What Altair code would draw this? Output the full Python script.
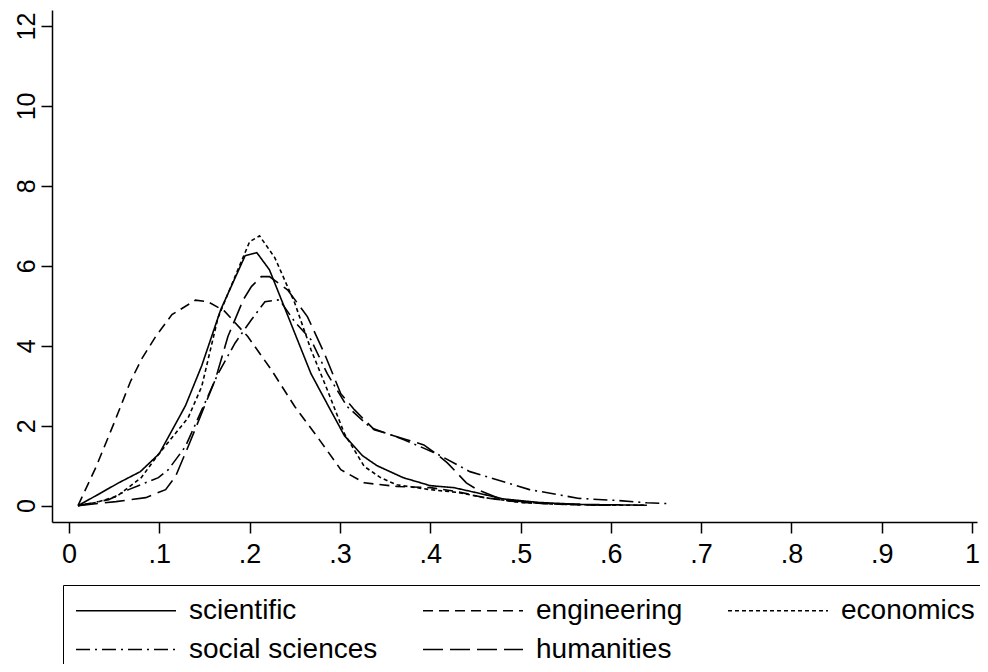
import altair as alt
import pandas as pd

# ---- data (kernel density curves) ----
series_names = ["scientific", "engineering", "economics", "social sciences", "humanities"]

sci_x = [0.01, 0.03, 0.055, 0.079, 0.10, 0.129, 0.147, 0.168, 0.195, 0.208, 0.222, 0.245, 0.268, 0.287,
         0.305, 0.325, 0.341, 0.37, 0.40, 0.426, 0.45, 0.48, 0.52, 0.565, 0.60, 0.64]
sci_y = [0.0, 0.25, 0.57, 0.85, 1.3, 2.5, 3.5, 4.9, 6.25, 6.33, 5.9, 4.6, 3.3, 2.5,
         1.75, 1.25, 1.0, 0.7, 0.5, 0.45, 0.33, 0.17, 0.08, 0.03, 0.02, 0.01]

eng_x = [0.01, 0.03, 0.05, 0.068, 0.08, 0.096, 0.114, 0.14, 0.154, 0.172, 0.198, 0.224, 0.25, 0.275,
         0.301, 0.327, 0.363, 0.40, 0.43, 0.46, 0.50, 0.55, 0.60]
eng_y = [0.0, 0.97, 2.07, 3.1, 3.65, 4.23, 4.78, 5.14, 5.1, 4.87, 4.23, 3.4, 2.48, 1.72,
         0.9, 0.57, 0.48, 0.45, 0.35, 0.2, 0.08, 0.03, 0.01]

eco_x = [0.01, 0.03, 0.053, 0.08, 0.099, 0.132, 0.147, 0.165, 0.187, 0.20, 0.211, 0.228, 0.25, 0.268,
         0.286, 0.305, 0.327, 0.345, 0.363, 0.40, 0.43, 0.46, 0.50, 0.55, 0.60, 0.64]
eco_y = [0.0, 0.08, 0.23, 0.7, 1.28, 2.2, 2.98, 4.7, 5.9, 6.6, 6.75, 6.2, 5.07, 3.9,
         2.9, 1.8, 0.98, 0.7, 0.52, 0.4, 0.33, 0.2, 0.08, 0.03, 0.01, 0.01]

soc_x = [0.01, 0.044, 0.066, 0.099, 0.11, 0.129, 0.165, 0.184, 0.202, 0.217, 0.233, 0.25, 0.268, 0.286,
         0.308, 0.334, 0.371, 0.407, 0.444, 0.51, 0.565, 0.606, 0.64, 0.664]
soc_y = [0.0, 0.15, 0.4, 0.7, 0.9, 1.48, 3.3, 4.07, 4.65, 5.1, 5.15, 4.6, 4.15, 3.3,
         2.48, 1.95, 1.65, 1.3, 0.85, 0.4, 0.18, 0.13, 0.07, 0.05]

hum_x = [0.01, 0.052, 0.085, 0.107, 0.118, 0.132, 0.162, 0.176, 0.193, 0.202, 0.213, 0.222, 0.242, 0.264,
         0.283, 0.301, 0.316, 0.338, 0.374, 0.393, 0.411, 0.419, 0.44, 0.452, 0.48, 0.52, 0.56, 0.60]
hum_y = [0.0, 0.1, 0.2, 0.4, 0.73, 1.48, 3.15, 4.23, 5.15, 5.48, 5.73, 5.73, 5.4, 4.73,
         3.8, 2.8, 2.4, 1.9, 1.65, 1.52, 1.22, 1.07, 0.57, 0.4, 0.15, 0.06, 0.03, 0.01]

x_ticks = [0, 0.1, 0.2, 0.3, 0.4, 0.5, 0.6, 0.7, 0.8, 0.9, 1.0]
y_ticks = [0, 2, 4, 6, 8, 10, 12]

dash_styles = [[1, 0], [10, 6], [4, 3], [14, 5, 2, 5], [20, 7]]

rows = []
for name, xs, ys in zip(series_names,
                        [sci_x, eng_x, eco_x, soc_x, hum_x],
                        [sci_y, eng_y, eco_y, soc_y, hum_y]):
    for i, (xv, yv) in enumerate(zip(xs, ys)):
        rows.append({"series": name, "x": xv, "y": yv, "order": i})
df = pd.DataFrame(rows)

FONT = "Liberation Sans, Arial, Helvetica, sans-serif"

chart = alt.Chart(df).mark_line(color="black", strokeWidth=1.6).encode(
    x=alt.X("x:Q",
            scale=alt.Scale(domain=[-0.0188, 1.0055], nice=False, zero=False),
            axis=alt.Axis(values=x_ticks, title=None,
                          labelExpr="replace(format(datum.value, '.1~f'), '0.', '.')",
                          labelFontSize=27, labelPadding=8, tickSize=11,
                          labelFlush=False, labelOverlap=False)),
    y=alt.Y("y:Q",
            scale=alt.Scale(domain=[-0.41, 12.4], nice=False, zero=False),
            axis=alt.Axis(values=y_ticks, title=None, labelAngle=270,
                          labelAlign="center", labelBaseline="bottom",
                          labelFontSize=25, labelPadding=2, tickSize=11,
                          labelFlush=False, labelOverlap=False)),
    strokeDash=alt.StrokeDash("series:N",
                              scale=alt.Scale(domain=series_names, range=dash_styles),
                              legend=alt.Legend(title=None, orient="none",
                                                legendX=11, legendY=575,
                                                columns=3, direction="horizontal",
                                                symbolType="stroke", symbolSize=10000,
                                                symbolStrokeWidth=1.6,
                                                symbolStrokeColor="black",
                                                clipHeight=27,
                                                labelFontSize=28, labelOffset=12,
                                                labelFont=FONT, labelColor="black",
                                                labelLimit=400,
                                                columnPadding=44, rowPadding=10,
                                                padding=12, strokeColor="black",
                                                fillColor="white")),
    detail="series:N",
    order="order:Q",
).properties(
    width=925, height=512,
    autosize=alt.AutoSizeParams(type="none"),
    padding={"left": 44, "top": 2, "right": 3, "bottom": 142},
    background="white",
).configure_view(
    stroke=None
).configure_axis(
    grid=False, domainColor="black", tickColor="black", labelColor="black",
    domainWidth=1.5, tickWidth=1.5, labelFont=FONT
)

chart.save("out.html", embed_options={"renderer": "svg", "actions": False})
